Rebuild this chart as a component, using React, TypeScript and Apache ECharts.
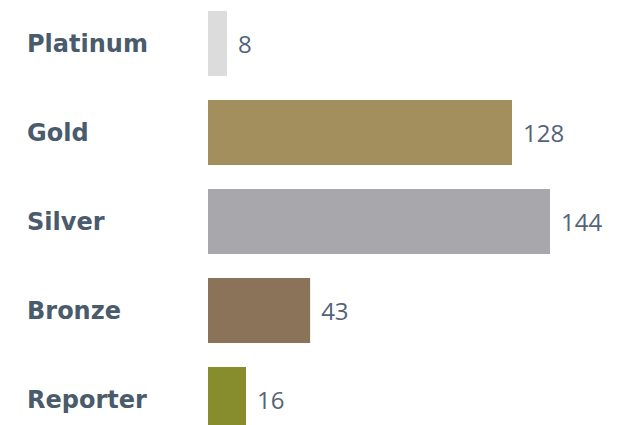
import React, { useEffect, useRef } from "react";
import * as echarts from "echarts";

const categories = ["Platinum", "Gold", "Silver", "Bronze", "Reporter"];
const values = [8, 128, 144, 43, 16];
const colors = ["#dcdcdc", "#a38f5e", "#a8a7ac", "#8b7359", "#878c2d"];

export default function App() {
  const ref = useRef<HTMLDivElement>(null);
  useEffect(() => {
    document.body.style.margin = "0";
    const chart = echarts.init(ref.current!, undefined, { renderer: "svg" });
    chart.setOption({
      animation: false,
      grid: { left: 208, top: 0, bottom: 0, width: 380 },
      xAxis: { type: "value", min: 0, max: 160, show: false },
      yAxis: {
        type: "category",
        data: categories,
        inverse: true,
        axisLine: { show: false },
        axisTick: { show: false },
        axisLabel: {
          align: "left",
          margin: 181,
          fontFamily: "DejaVu Sans",
          fontWeight: "bold",
          fontSize: 24,
          color: "#4a5b6c",
        },
      },
      series: [
        {
          type: "bar",
          barWidth: 65,
          data: values.map((v, i) => ({ value: v, itemStyle: { color: colors[i] } })),
          label: {
            show: true,
            position: "right",
            distance: 11,
            fontFamily: "Open Sans",
            fontSize: 24,
            color: "#536478",
          },
        },
      ],
    });
    return () => chart.dispose();
  }, []);
  return (
    <div style={{ width: 633, height: 425, overflow: "hidden" }}>
      <div ref={ref} style={{ width: 633, height: 445, marginTop: -1.5 }} />
    </div>
  );
}
